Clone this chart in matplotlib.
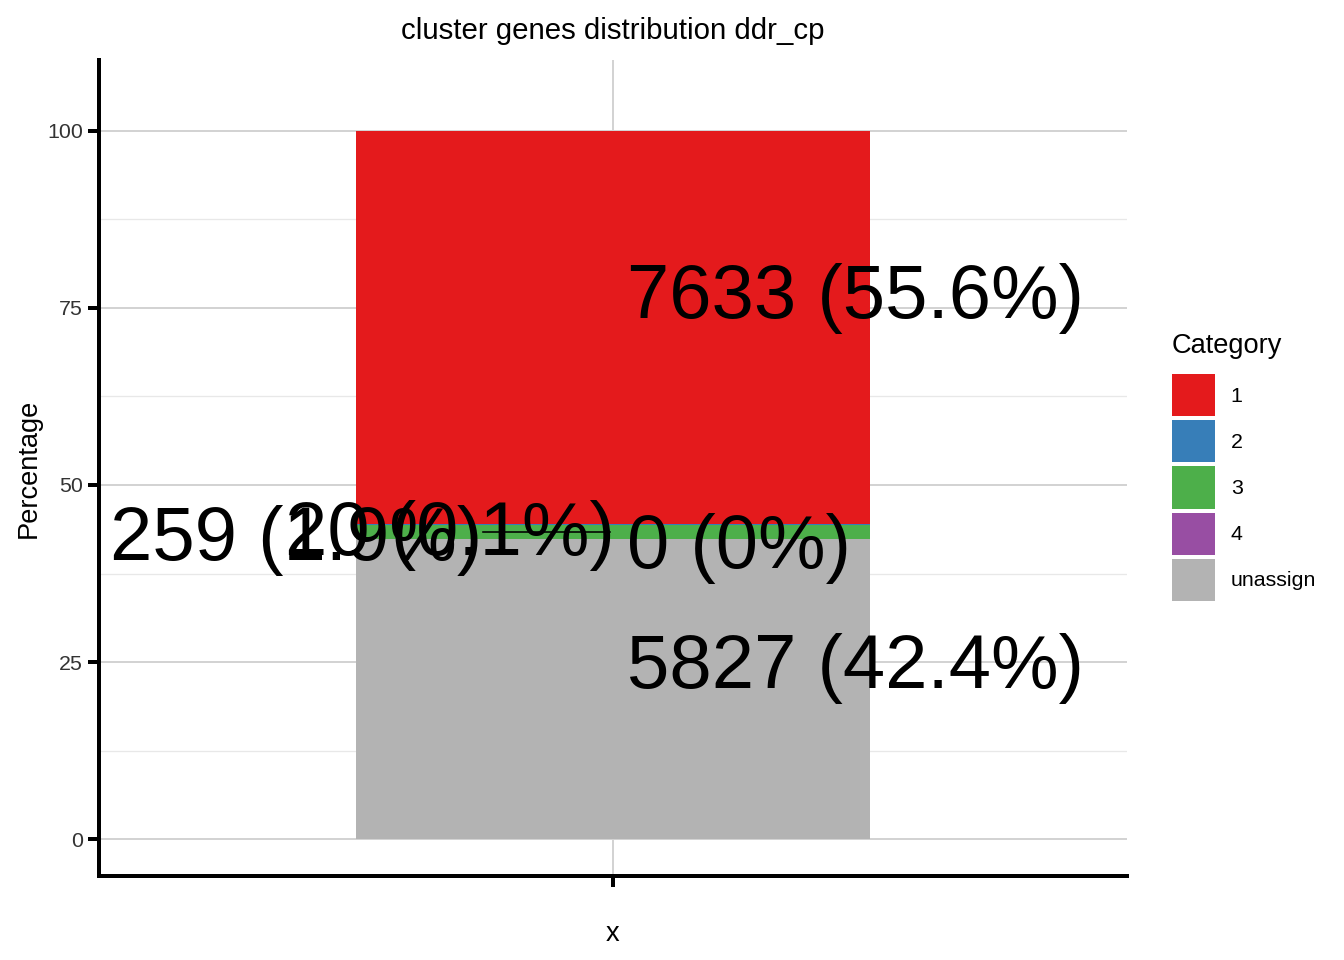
import matplotlib
matplotlib.use("Agg")
import matplotlib.pyplot as plt
from matplotlib.patches import Patch
import numpy as np

plt.rcParams['font.family'] = ['Liberation Sans', 'DejaVu Sans']

# Data
categories = ['1', '2', '3', '4', 'unassign']
counts = [7633, 20, 259, 0, 5827]
colors = ['#E41A1C', '#377EB8', '#4DAF4A', '#984EA3', '#B3B3B3']

total = sum(counts)
pct = [c / total * 100 for c in counts]
labels = ['%d (%s%%)' % (c, ('%.1f' % round(p, 1)).rstrip('0').rstrip('.')) for c, p in zip(counts, pct)]

# where the (repelled) labels ended up: x, baseline y
label_xy = {'1': (1.016, 73.6), '2': (0.617, 40.1), '3': (0.4128, 39.4),
            '4': (1.016, 38.3), 'unassign': (1.016, 21.3)}

fig = plt.figure(figsize=(14, 10), dpi=96)
ax = fig.add_axes([99/1344, 1-876/960, (1127-99)/1344, (876-60)/960])

# stacked bar, unassign at the bottom
bottom = 0
for cat, p, col in list(zip(categories, pct, colors))[::-1]:
    ax.bar(1, p, width=0.6, bottom=bottom, color=col, zorder=2)
    bottom += p

# segment for the small label
green_mid = pct[4] + pct[3] + pct[2] / 2
ax.plot([0.848, 0.9965], [green_mid, green_mid], color='black', lw=1.2, zorder=3)

for cat, lab in zip(categories, labels):
    x, y = label_xy[cat]
    ax.text(x, y, lab, fontsize=57, ha='left', va='baseline', zorder=4)

ax.set_xlim(0.4, 1.6)
ax.set_ylim(-5.2, 110)
ax.set_xticks([1])
ax.set_xticklabels([''])
ax.set_yticks([0, 25, 50, 75, 100])
ax.set_yticks([12.5, 37.5, 62.5, 87.5], minor=True)
ax.grid(which='major', color='#D3D3D3', lw=1.5, zorder=0)
ax.grid(which='minor', axis='y', color='#E8E8E8', lw=1.0, zorder=0)
ax.tick_params(axis='both', which='major', length=8, width=3, labelsize=16,
               labelcolor='#333333', pad=4)
ax.tick_params(axis='both', which='minor', length=0)
for s in ['top', 'right']:
    ax.spines[s].set_visible(False)
for s in ['left', 'bottom']:
    ax.spines[s].set_linewidth(3)
ax.set_ylabel('Percentage', fontsize=20.4, labelpad=4)
ax.set_xlabel('x', fontsize=20.4, labelpad=22)
ax.set_title('cluster genes distribution ddr_cp', fontsize=22, pad=16)

# legend: title as separate text, keys below it
fig.text(1172/1344, 1-346/960, 'Category', fontsize=20.4, ha='left', va='center')
handles = [Patch(facecolor=c, edgecolor='none') for c in colors]
leg = fig.legend(handles, categories, loc='upper left', bbox_to_anchor=(1155/1344, 1-357/960),
                 frameon=False, fontsize=16,
                 handlelength=2.0, handleheight=2.66, labelspacing=0.19, handletextpad=0.75,
                 borderpad=0.3)

fig.savefig('out.png', dpi=96)
